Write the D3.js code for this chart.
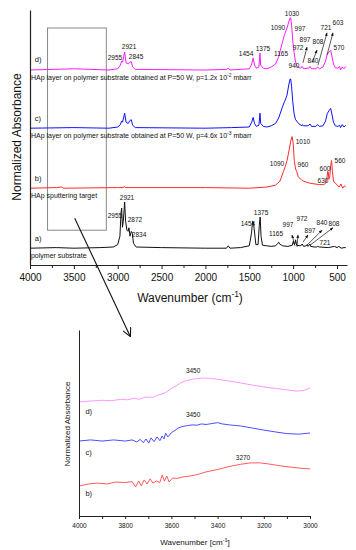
<!DOCTYPE html>
<html>
<head>
<meta charset="utf-8">
<script src="https://cdn.jsdelivr.net/npm/d3@7"></script>
<style>
  body { margin: 0; background: #fff; }
  text { font-family: "Liberation Sans", Arial, sans-serif; fill: #111; }
</style>
</head>
<body>
<script>
// ---- top panel: full FTIR spectra, [wavenumber, normalized absorbance above own baseline]
const specA = [[4000,0],[3700,0.01],[3500,0],[3200,0.01],[3050,0.02],[3000,0.06],[2975,0.2],[2962,0.6],[2955,0.67],[2946,0.35],[2936,0.45],[2921,0.77],[2910,0.45],[2895,0.3],[2882,0.28],[2872,0.34],[2860,0.2],[2845,0.28],[2834,0.25],[2820,0.08],[2790,0.02],[2500,0.01],[2000,0],[1760,0],[1740,0.04],[1720,0],[1600,0.01],[1500,0.04],[1475,0.25],[1462,0.45],[1454,0.44],[1445,0.33],[1425,0.06],[1400,0.06],[1386,0.38],[1376,0.52],[1366,0.2],[1350,0.05],[1300,0.04],[1250,0.03],[1200,0.04],[1175,0.08],[1165,0.1],[1155,0.07],[1120,0.04],[1060,0.03],[1010,0.05],[997,0.12],[988,0.06],[980,0.07],[972,0.14],[960,0.05],[920,0.04],[900,0.06],[897,0.07],[880,0.03],[850,0.04],[840,0.06],[830,0.03],[808,0.07],[800,0.03],[760,0.02],[730,0.02],[721,0.03],[700,0.02],[600,0.01],[530,0.03],[500,0.01],[480,0.03],[450,0],[420,0.01],[400,0.01]];
const specB = [[4000,0],[3700,0.01],[3640,0.02],[3620,0],[3000,0.01],[2935,0.01],[2925,0.03],[2915,0.01],[2000,0.01],[1500,0],[1300,0.02],[1200,0.05],[1150,0.12],[1110,0.28],[1090,0.36],[1070,0.46],[1045,0.64],[1025,0.8],[1012,0.86],[1000,0.76],[987,0.46],[972,0.32],[960,0.28],[940,0.19],[900,0.13],[850,0.1],[800,0.08],[700,0.06],[650,0.06],[632,0.08],[616,0.15],[606,0.28],[600,0.27],[592,0.15],[582,0.2],[572,0.38],[562,0.46],[552,0.28],[540,0.12],[520,0.08],[500,0.06],[475,0.02],[455,0.07],[435,0],[415,0.04],[400,0.02]];
const specC = [[4000,0],[3500,0.01],[3100,0],[3000,0.02],[2970,0.06],[2955,0.12],[2945,0.1],[2921,0.25],[2905,0.1],[2880,0.08],[2860,0.13],[2845,0.14],[2830,0.05],[2800,0.01],[2000,0],[1700,0.01],[1500,0.02],[1472,0.1],[1456,0.18],[1440,0.08],[1420,0.03],[1390,0.05],[1378,0.25],[1370,0.08],[1340,0.03],[1300,0.02],[1250,0.04],[1200,0.08],[1165,0.17],[1130,0.32],[1100,0.44],[1090,0.47],[1070,0.55],[1050,0.72],[1035,0.82],[1028,0.82],[1018,0.7],[1005,0.45],[990,0.25],[975,0.15],[950,0.1],[940,0.08],[920,0.06],[900,0.04],[897,0.06],[880,0.04],[840,0.04],[820,0.05],[808,0.07],[790,0.03],[740,0.03],[721,0.06],[700,0.03],[660,0.04],[630,0.12],[612,0.24],[592,0.29],[572,0.33],[556,0.22],[540,0.1],[520,0.04],[490,0.03],[470,0.05],[460,0.01],[440,0.06],[420,0.02],[400,0.05]];
const specD = [[4000,0],[3500,0.02],[3100,0],[3000,0.02],[2970,0.08],[2955,0.15],[2945,0.13],[2921,0.3],[2905,0.12],[2880,0.1],[2860,0.13],[2845,0.14],[2830,0.05],[2800,0.01],[2000,0],[1760,0.01],[1740,0.03],[1720,0],[1500,0.02],[1472,0.1],[1456,0.2],[1440,0.08],[1420,0.03],[1390,0.05],[1378,0.28],[1370,0.08],[1340,0.03],[1300,0.02],[1250,0.05],[1200,0.1],[1165,0.22],[1130,0.42],[1100,0.58],[1090,0.62],[1070,0.7],[1050,0.8],[1035,0.87],[1028,0.87],[1018,0.75],[1005,0.5],[990,0.3],[975,0.15],[960,0.08],[940,0.05],[920,0.03],[900,0.05],[897,0.06],[880,0.02],[840,0.03],[820,0.03],[808,0.06],[790,0.02],[740,0.02],[721,0.05],[700,0.02],[660,0.05],[630,0.15],[612,0.26],[592,0.3],[572,0.33],[556,0.22],[540,0.1],[520,0.04],[490,0.03],[470,0.06],[460,0],[440,0.05],[420,0.02],[400,0.06]];

const topNames = ["a)", "b)", "c)", "d)"];
const topCaptions = ["polymer substrate", "HAp sputtering target",
  "HAp layer on polymer substrate obtained at P=50 W, p=4.6x 10|-3| mbarr",
  "HAp layer on polymer substrate obtained at P=50 W, p=1.2x 10|-2| mbarr"];
const topTicks = [4000, 3500, 3000, 2500, 2000, 1500, 1000, 500];
const topMinor = [3750, 3250, 2750, 2250, 1750, 1250, 750];

// peak labels [text, wavenumber, absorbance]
const topLabels = [
  ["2921",2871,3.63],["2955",3031,3.45],["2845",2791,3.47],["1454",1537,3.52],["1375",1344,3.6],
  ["1165",1138,3.52],["1090",1173,3.95],["1030",1013,4.18],["997",922,3.93],["972",944,3.62],
  ["897",865,3.75],["808",717,3.72],["721",625,3.95],["603",489,4.04],["570",477,3.62],
  ["940",990,3.32],["840",774,3.4],
  ["1010",888,2.05],["1090",1184,1.68],["960",888,1.67],["600",637,1.6],["630",660,1.4],["560",466,1.73],
  ["2921",2894,1.12],["2955",3031,0.82],["2872",2803,0.75],["2834",2757,0.5],["1454",1515,0.68],
  ["1375",1366,0.87],["1165",1195,0.52],["997",1059,0.67],["972",899,0.77],["897",808,0.57],
  ["840",671,0.7],["808",534,0.68],["721",637,0.37]];
// small arrows [fromW, fromA, toW, toA]
const topArrows = [
  [888,3.37,842,3.63],[785,3.37,728,3.58],[717,3.33,614,3.87],[614,3.5,546,3.87],
  [979,0.32,1013,0.5],[956,0.3,945,0.5],[888,0.38,831,0.5],[842,0.33,671,0.58],[808,0.33,546,0.62]];

// ---- bottom panel: 4000-3000 zoom, [wavenumber, absorbance]
const zoomB = [[4000,1.61],[3960,1.72],[3920,1.77],[3880,1.72],[3840,1.83],[3800,1.8],[3770,1.85],[3755,1.56],[3742,1.88],[3730,1.62],[3718,1.94],[3705,1.72],[3692,2.0],[3680,1.77],[3665,1.88],[3650,1.8],[3640,2.2],[3630,1.88],[3620,2.15],[3610,1.83],[3595,2.04],[3575,2.02],[3550,2.1],[3520,2.15],[3490,2.22],[3450,2.37],[3400,2.5],[3350,2.66],[3300,2.78],[3260,2.85],[3220,2.86],[3180,2.8],[3140,2.72],[3100,2.65],[3050,2.58],[3000,2.53]];
const zoomC = [[4000,4.03],[3950,4.09],[3900,4.03],[3850,4.09],[3800,4.03],[3770,4.09],[3750,3.98],[3735,4.12],[3722,3.94],[3710,4.14],[3698,3.92],[3688,4.2],[3675,4.0],[3662,4.25],[3650,4.05],[3640,4.3],[3632,4.15],[3625,4.45],[3615,4.25],[3600,4.48],[3585,4.6],[3570,4.73],[3550,4.82],[3530,4.86],[3510,4.9],[3490,4.88],[3470,4.95],[3450,4.92],[3430,4.96],[3400,5.02],[3380,4.95],[3350,4.9],[3300,4.84],[3250,4.73],[3200,4.62],[3150,4.52],[3100,4.43],[3050,4.4],[3000,4.46]];
const zoomD = [[4000,6.13],[3950,6.18],[3900,6.22],[3860,6.2],[3820,6.27],[3790,6.25],[3760,6.33],[3740,6.28],[3720,6.36],[3700,6.4],[3680,6.38],[3660,6.5],[3640,6.55],[3620,6.68],[3600,6.85],[3580,7.0],[3560,7.15],[3540,7.26],[3510,7.35],[3480,7.4],[3460,7.42],[3440,7.41],[3400,7.35],[3350,7.26],[3300,7.15],[3250,7.04],[3200,6.94],[3150,6.86],[3100,6.78],[3060,6.72],[3030,6.74],[3000,6.88]];
const zoomNames = ["b)", "c)", "d)"];
const zoomTicks = [4000, 3800, 3600, 3400, 3200, 3000];
const zoomMinor = [3900, 3700, 3500, 3300, 3100];
// [text, wavenumber, absorbance]
const zoomLabels = [["3450",3506,7.8],["3450",3506,5.43],["3270",3290,3.12]];

const W = 356, H = 550;
const svg = d3.select("body").append("svg").attr("width", W).attr("height", H);

// scales
const xT = d3.scaleLinear().domain([4000, 386]).range([30, 347]);
const yT = d3.scaleLinear().domain([0, 4.25]).range([265, 10]);
const xB = d3.scaleLinear().domain([4000, 3000]).range([79, 310]);
const yB = d3.scaleLinear().domain([0, 10]).range([516, 330]);

const topOffsets = [0.28, 1.28, 2.28, 3.25];
const topColors = ["#111", "#ff2a2a", "#1010ff", "#ff1cff"];
const zoomColors = ["#ff4a4a", "#3a3aff", "#ff8cff"];

// superscript helper: "a|b|c" -> a, sup b, c
function richText(sel, str, size) {
  const parts = str.split("|");
  sel.append("tspan").text(parts[0]);
  if (parts.length > 1) {
    sel.append("tspan").attr("font-size", size * 0.7).attr("dy", -size * 0.4).text(parts[1]);
    sel.append("tspan").attr("dy", size * 0.4).text(parts[2]);
  }
}

// ---------- top panel
const gT = svg.append("g");

// zoom box
gT.append("rect")
  .attr("x", xT(3800)).attr("y", yT(3.95))
  .attr("width", xT(3130) - xT(3800)).attr("height", yT(0.58) - yT(3.95))
  .attr("fill", "none").attr("stroke", "#888").attr("stroke-width", 1);

const lineT = (off) => d3.line().x(d => xT(d[0])).y(d => yT(d[1] + off));
[specA, specB, specC, specD].forEach((s, i) => {
  gT.append("path").datum(s)
    .attr("fill", "none").attr("stroke", topColors[i]).attr("stroke-width", 1)
    .attr("stroke-linejoin", "round")
    .attr("d", lineT(topOffsets[i]));
});

// axes
gT.append("g").attr("transform", "translate(0,265)")
  .call(d3.axisBottom(xT).tickValues(topTicks).tickSize(4).tickSizeOuter(0).tickFormat(d3.format("d")))
  .call(g => g.selectAll("text").attr("font-size", 10).attr("font-family", "Liberation Sans, Arial, sans-serif").attr("fill", "#111").attr("dy", "0.9em"))
  .call(g => g.selectAll("line,path").attr("stroke", "#222"));
gT.append("g").attr("transform", "translate(0,265)")
  .call(d3.axisBottom(xT).tickValues(topMinor).tickSize(3).tickFormat(""))
  .call(g => g.select(".domain").remove())
  .call(g => g.selectAll("line").attr("stroke", "#222"));
gT.append("g").attr("transform", "translate(30,0)")
  .call(d3.axisLeft(yT).tickValues([]).tickSizeOuter(0))
  .call(g => g.select(".domain").attr("stroke", "#222").attr("stroke-width", 1.2));

gT.append("text").attr("transform", "translate(21,137) rotate(-90)")
  .attr("text-anchor", "middle").attr("font-size", 12).text("Normalized Absorbance");
const xlab = gT.append("text").attr("x", 190).attr("y", 302).attr("text-anchor", "middle").attr("font-size", 12);
richText(xlab, "Wavenumber (cm|-1|)", 12);

// trace names and captions
topNames.forEach((n, i) => {
  gT.append("text").attr("x", xT(3945)).attr("y", yT(topOffsets[i] + 0.17)).attr("dy", "0.35em")
    .attr("font-size", 7.5).text(n);
  const t = gT.append("text").attr("x", xT(3989)).attr("y", yT(topOffsets[i] - 0.12)).attr("dy", "0.35em")
    .attr("font-size", 7);
  richText(t, topCaptions[i], 7);
});

gT.selectAll("text.pk").data(topLabels).join("text").attr("class", "pk")
  .attr("x", d => xT(d[1])).attr("y", d => yT(d[2])).attr("dy", "0.35em")
  .attr("text-anchor", "middle").attr("font-size", 6.5).text(d => d[0]);

const defs = svg.append("defs");
defs.append("marker").attr("id", "tri").attr("viewBox", "0 0 10 10").attr("refX", 9).attr("refY", 5)
  .attr("markerWidth", 5).attr("markerHeight", 5).attr("orient", "auto")
  .append("path").attr("d", "M0,1L10,5L0,9Z").attr("fill", "#111");
defs.append("marker").attr("id", "vee").attr("viewBox", "0 0 10 10").attr("refX", 9).attr("refY", 5)
  .attr("markerWidth", 9).attr("markerHeight", 9).attr("markerUnits", "userSpaceOnUse").attr("orient", "auto")
  .append("path").attr("d", "M0,0L10,5L0,10").attr("fill", "none").attr("stroke", "#111").attr("stroke-width", 1.2);

gT.selectAll("line.ar").data(topArrows).join("line").attr("class", "ar")
  .attr("x1", d => xT(d[0])).attr("y1", d => yT(d[1]))
  .attr("x2", d => xT(d[2])).attr("y2", d => yT(d[3]))
  .attr("stroke", "#111").attr("stroke-width", 0.7).attr("marker-end", "url(#tri)");

// big arrow from box to zoom panel
svg.append("line")
  .attr("x1", xT(3490)).attr("y1", yT(0.78))
  .attr("x2", xB(3779)).attr("y2", yB(9.68))
  .attr("stroke", "#111").attr("stroke-width", 1.1).attr("marker-end", "url(#vee)");

// ---------- bottom panel
const gB = svg.append("g");
const lineB = d3.line().x(d => xB(d[0])).y(d => yB(d[1]));
[zoomB, zoomC, zoomD].forEach((s, i) => {
  gB.append("path").datum(s)
    .attr("fill", "none").attr("stroke", zoomColors[i]).attr("stroke-width", 0.9)
    .attr("d", lineB);
});

gB.append("g").attr("transform", "translate(0,516)")
  .call(d3.axisBottom(xB).tickValues(zoomTicks).tickSize(3).tickSizeOuter(0).tickFormat(d3.format("d")))
  .call(g => g.selectAll("text").attr("font-size", 6.5).attr("font-family", "Liberation Sans, Arial, sans-serif").attr("fill", "#111").attr("dy", "0.9em"))
  .call(g => g.selectAll("line,path").attr("stroke", "#222"));
gB.append("g").attr("transform", "translate(0,516)")
  .call(d3.axisBottom(xB).tickValues(zoomMinor).tickSize(3).tickFormat(""))
  .call(g => g.select(".domain").remove())
  .call(g => g.selectAll("line").attr("stroke", "#222"));
gB.append("g").attr("transform", "translate(79,0)")
  .call(d3.axisLeft(yB).tickValues([]).tickSizeOuter(0))
  .call(g => g.select(".domain").attr("stroke", "#222"));

gB.append("text").attr("transform", "translate(70,424) rotate(-90)")
  .attr("text-anchor", "middle").attr("font-size", 8).text("Normalized Absorbance");
const xlabB = gB.append("text").attr("x", 195).attr("y", 545).attr("text-anchor", "middle").attr("font-size", 8);
richText(xlabB, "Wavenumber [cm|-1|]", 8);

const zoomNamePos = [1.24, 3.44, 5.65];
zoomNames.forEach((n, i) => {
  gB.append("text").attr("x", xB(3972)).attr("y", yB(zoomNamePos[i])).attr("dy", "0.35em")
    .attr("font-size", 7.5).text(n);
});
gB.selectAll("text.pk").data(zoomLabels).join("text").attr("class", "pk")
  .attr("x", d => xB(d[1])).attr("y", d => yB(d[2])).attr("dy", "0.35em")
  .attr("text-anchor", "middle").attr("font-size", 6.5).text(d => d[0]);
</script>
</body>
</html>
